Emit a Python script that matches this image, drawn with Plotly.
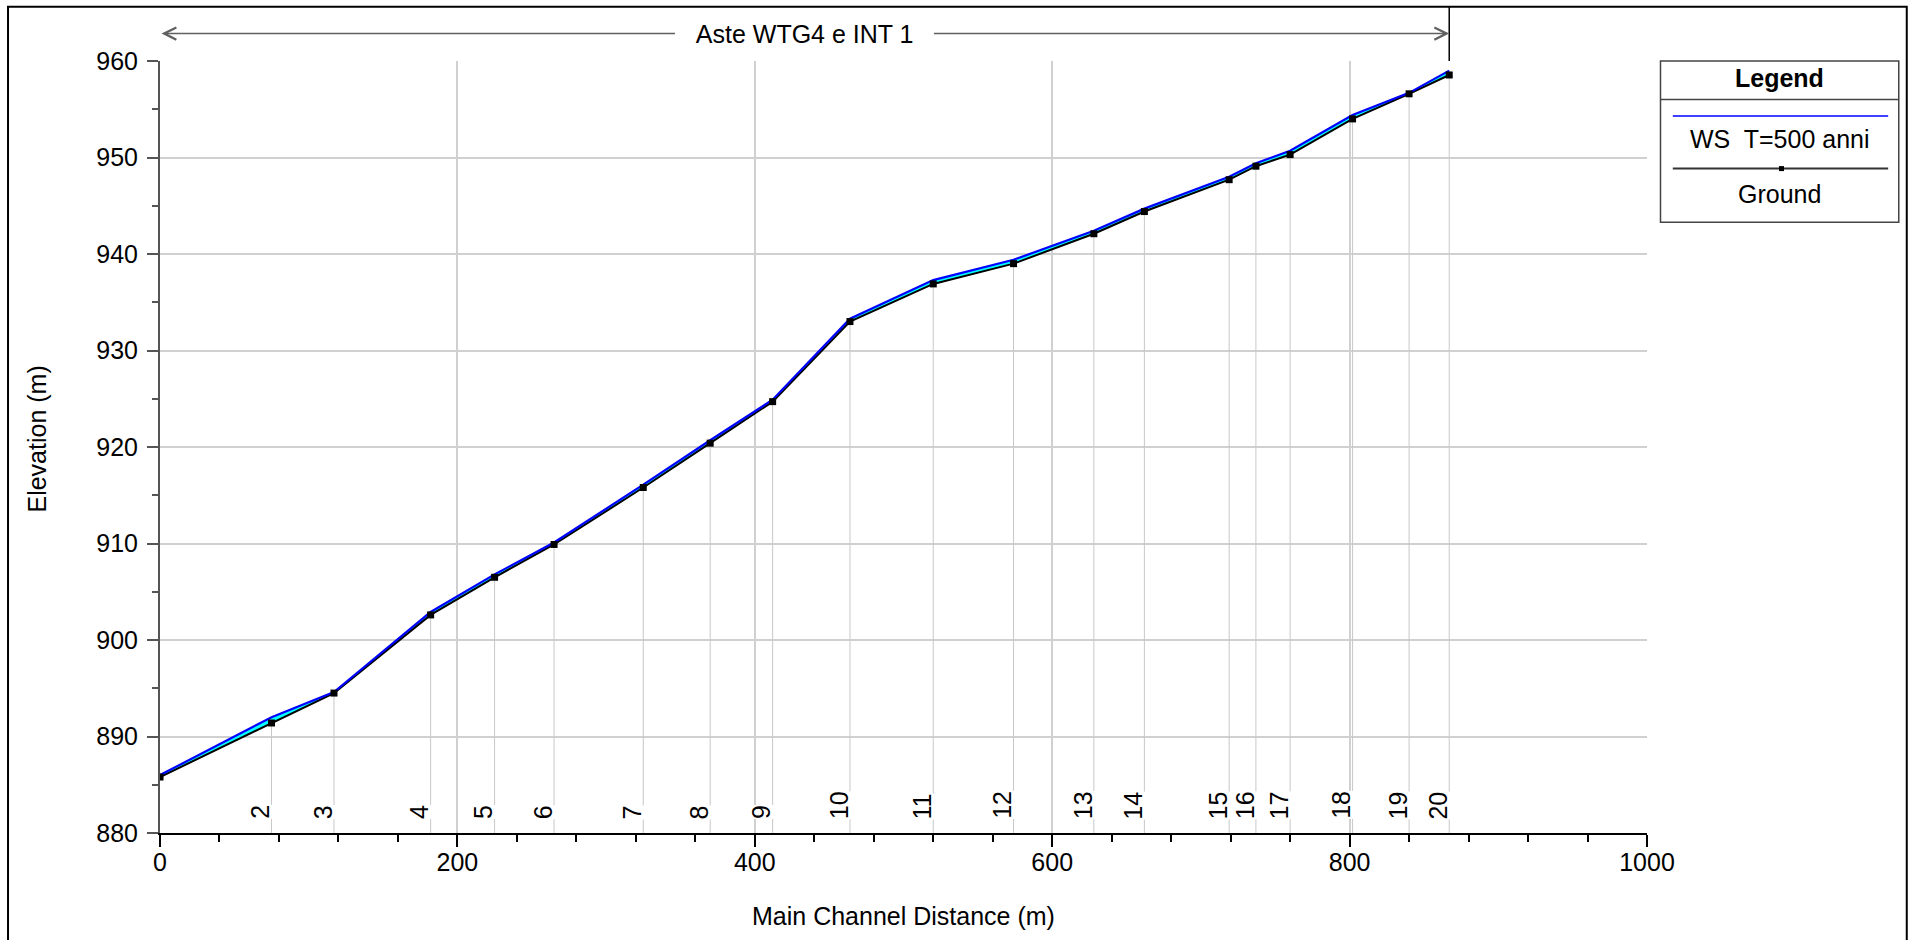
import plotly.graph_objects as go

# ---------------- data ----------------
stations = [0, 75, 117, 182, 225, 265, 325, 370, 412, 464, 520, 574, 628, 662, 719, 737, 760, 802, 840, 867]
station_labels = ["1", "2", "3", "4", "5", "6", "7", "8", "9", "10",
                  "11", "12", "13", "14", "15", "16", "17", "18", "19", "20"]
ground = [885.8, 891.4, 894.5, 902.6, 906.5, 909.9, 915.8, 920.4, 924.7, 933.0,
          936.9, 939.0, 942.1, 944.4, 947.7, 949.1, 950.3, 954.0, 956.6, 958.55]
ws = [886.0, 892.0, 894.6, 902.9, 906.8, 910.1, 916.1, 920.7, 924.9, 933.3,
      937.3, 939.4, 942.4, 944.7, 948.0, 949.4, 950.7, 954.4, 956.7, 959.0]

reach_name = "Aste WTG4 e INT 1"
ws_name = "WS\u00a0 T=500 anni"
ground_name = "Ground"
legend_title = "Legend"
x_title = "Main Channel Distance (m)"
y_title = "Elevation (m)"
x_range = [0, 1000]
y_range = [880, 960]

# ---------------- layout geometry (pixels) ----------------
W, H = 1914, 940
L, R, T, B = 160.3, 1647.5, 60.7, 832.7
FONT = "Liberation Sans, Arial, sans-serif"
FS = 25


def px_x(px):
    return (px - L) / (R - L)


def px_y(py):
    return (B - py) / (B - T)


fig = go.Figure()

# station vertical lines (from ground down to axis)
sx, sy = [], []
for s, g in zip(stations[1:], ground[1:]):
    sx += [s, s, None]
    sy += [g, y_range[0], None]
fig.add_trace(go.Scatter(x=sx, y=sy, mode="lines",
                         line=dict(color="#c8c8c8", width=1), hoverinfo="skip"))

# ground line
fig.add_trace(go.Scatter(x=stations, y=ground, mode="lines", name=ground_name,
                         line=dict(color="black", width=2)))
# water surface with cyan fill down to ground
fig.add_trace(go.Scatter(x=stations, y=ws, mode="lines", name=ws_name,
                         fill="tonexty", fillcolor="#00FFFF",
                         line=dict(color="#0000FF", width=2.2)))
# ground markers
fig.add_trace(go.Scatter(x=stations, y=ground, mode="markers",
                         marker=dict(symbol="square", size=7, color="black"),
                         hoverinfo="skip"))

fig.update_xaxes(
    range=x_range, tick0=0, dtick=200, showgrid=True, gridcolor="#d0d0d0", gridwidth=1.5,
    showline=True, linecolor="black", linewidth=2, zeroline=False,
    ticks="outside", ticklen=12, tickwidth=1.5, tickcolor="black",
    minor=dict(dtick=40, tick0=0, ticks="outside", ticklen=7, tickwidth=1.5,
               tickcolor="black", showgrid=False),
    tickfont=dict(family=FONT, size=FS, color="black"), ticklabelstandoff=-6,
)
fig.update_yaxes(
    range=y_range, tick0=880, dtick=10, showgrid=True, gridcolor="#d0d0d0", gridwidth=1.5,
    showline=True, linecolor="#555555", linewidth=2, zeroline=False,
    ticks="outside", ticklen=11, tickwidth=1.5, tickcolor="#555555",
    minor=dict(dtick=5, ticks="outside", ticklen=6, tickwidth=1.5,
               tickcolor="#555555", showgrid=False),
    tickfont=dict(family=FONT, size=FS, color="black"), ticklabelstandoff=4,
)

shapes = []
annotations = []

# outer frame
shapes.append(dict(type="rect", xref="paper", yref="paper",
                   x0=px_x(8.3), x1=px_x(1907.3), y0=px_y(980), y1=px_y(6.5),
                   line=dict(color="black", width=2)))
# vertical marker at reach end
shapes.append(dict(type="line", xref="x", yref="paper",
                   x0=stations[-1], x1=stations[-1], y0=1, y1=px_y(6.5),
                   line=dict(color="black", width=1.5)))

# reach arrow
annotations.append(dict(x=stations[-1], y=px_y(33.3), xref="x", yref="paper",
                        ax=stations[0], axref="x", ay=0, ayref="pixel",
                        text="", showarrow=True, arrowside="end+start",
                        arrowhead=5, startarrowhead=5, arrowsize=1.6, startarrowsize=1.6,
                        arrowwidth=1.5, arrowcolor="#606060"))
annotations.append(dict(x=(stations[0] + stations[-1]) / 2, y=px_y(33.3), xref="x", yref="paper",
                        text="\u00a0\u00a0\u00a0" + reach_name + "\u00a0\u00a0\u00a0",
                        showarrow=False, bgcolor="white", borderpad=0, borderwidth=0,
                        font=dict(family=FONT, size=FS, color="black"),
                        xanchor="center", yanchor="middle"))

# station labels
for s, lab in zip(stations[1:], station_labels[1:]):
    annotations.append(dict(x=s, y=px_y(819), xref="x", yref="paper", text=lab,
                            textangle=-90, xanchor="center", yanchor="bottom", xshift=-11,
                            showarrow=False, bgcolor="white", borderpad=0, borderwidth=0,
                            font=dict(family=FONT, size=FS, color="black")))

# axis titles
annotations.append(dict(x=0.5, y=px_y(915.5), xref="paper", yref="paper", text=x_title,
                        showarrow=False, xanchor="center", yanchor="middle",
                        font=dict(family=FONT, size=FS, color="black")))
annotations.append(dict(x=px_x(37.5), y=px_y(439), xref="paper", yref="paper", text=y_title,
                        textangle=-90, showarrow=False, xanchor="center", yanchor="middle",
                        font=dict(family=FONT, size=FS, color="black")))

# custom legend box
lx0, lx1, ly0, ly1 = 1661, 1899.3, 60.7, 222
lcx = (lx0 + lx1) / 2
shapes.append(dict(type="rect", xref="paper", yref="paper",
                   x0=px_x(lx0), x1=px_x(lx1), y0=px_y(ly1), y1=px_y(ly0),
                   line=dict(color="#444444", width=1.5), fillcolor="white"))
shapes.append(dict(type="line", xref="paper", yref="paper",
                   x0=px_x(lx0), x1=px_x(lx1), y0=px_y(99.3), y1=px_y(99.3),
                   line=dict(color="#444444", width=1.5)))
shapes.append(dict(type="line", xref="paper", yref="paper",
                   x0=px_x(1673.3), x1=px_x(1888.7), y0=px_y(115.7), y1=px_y(115.7),
                   line=dict(color="#0000FF", width=1.5)))
shapes.append(dict(type="line", xref="paper", yref="paper",
                   x0=px_x(1673.3), x1=px_x(1888.7), y0=px_y(168.3), y1=px_y(168.3),
                   line=dict(color="#333333", width=2)))
shapes.append(dict(type="rect", xref="paper", yref="paper",
                   x0=px_x(1779.5), x1=px_x(1784.5), y0=px_y(170.8), y1=px_y(165.8),
                   line=dict(color="black", width=0), fillcolor="black"))
annotations.append(dict(x=px_x(lcx), y=px_y(77.3), xref="paper", yref="paper",
                        text="<b>" + legend_title + "</b>", showarrow=False,
                        xanchor="center", yanchor="middle",
                        font=dict(family=FONT, size=FS, color="black")))
annotations.append(dict(x=px_x(lcx), y=px_y(138.3), xref="paper", yref="paper",
                        text=ws_name, showarrow=False, xanchor="center", yanchor="middle",
                        font=dict(family=FONT, size=FS, color="black")))
annotations.append(dict(x=px_x(lcx), y=px_y(194), xref="paper", yref="paper",
                        text=ground_name, showarrow=False, xanchor="center", yanchor="middle",
                        font=dict(family=FONT, size=FS, color="black")))

fig.update_layout(
    width=W, height=H,
    margin=dict(l=L, r=W - R, t=T, b=H - B, autoexpand=False),
    paper_bgcolor="white", plot_bgcolor="white",
    showlegend=False, hovermode=False,
    font=dict(family=FONT, size=FS, color="black"),
    shapes=shapes, annotations=annotations,
)

fig.write_html("out.html")
